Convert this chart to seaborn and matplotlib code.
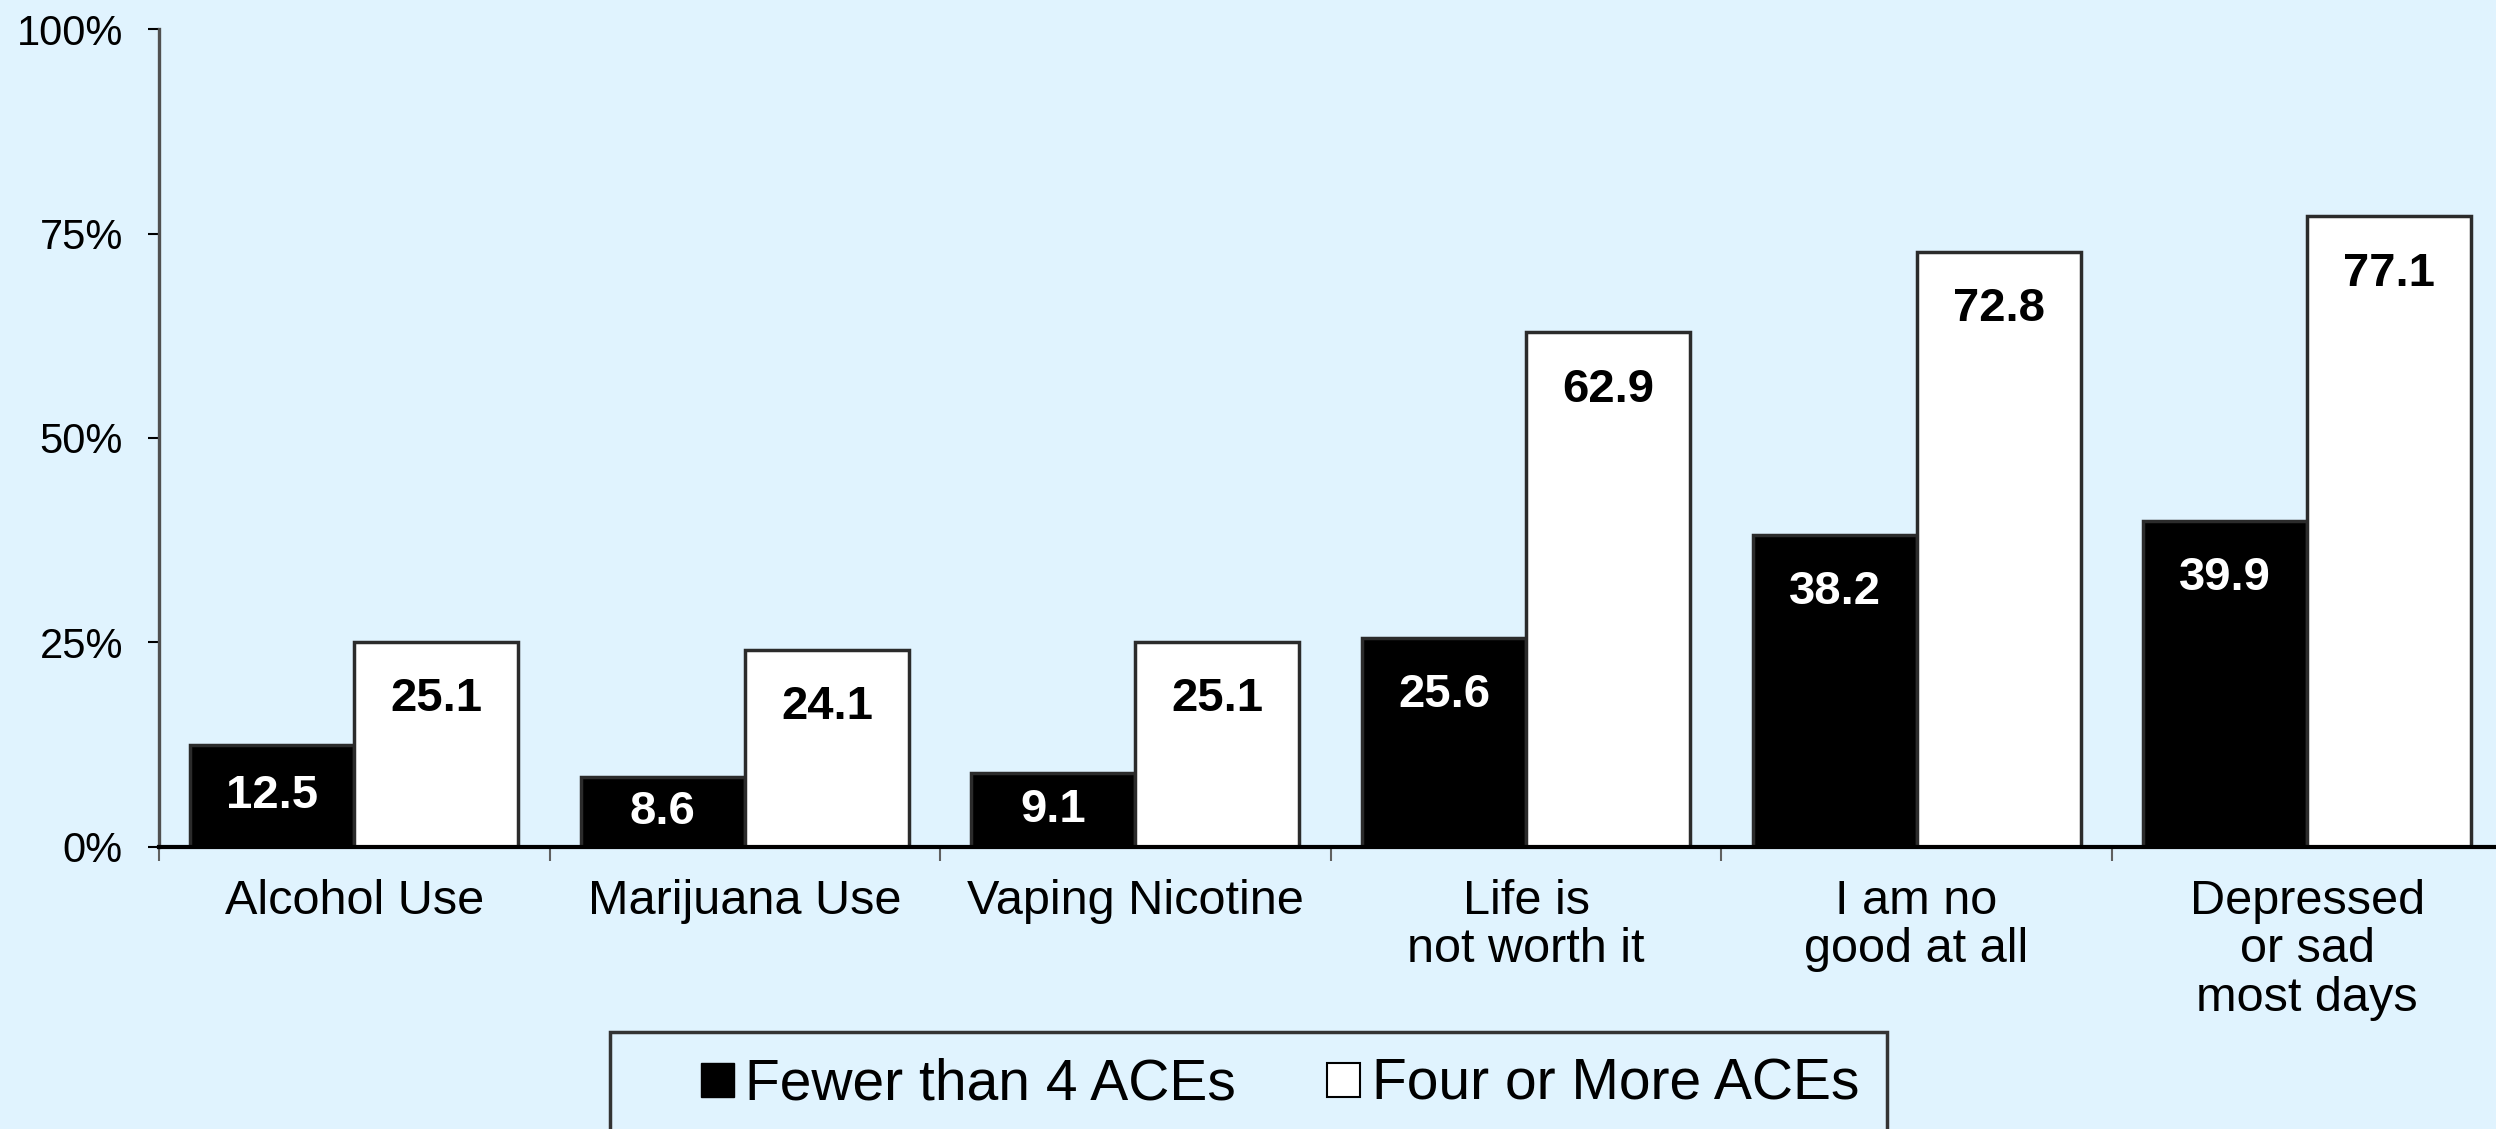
import matplotlib as mpl
import matplotlib.pyplot as plt
import matplotlib.patches as mpatches
import pandas as pd
import seaborn as sns

# Chart values.
categories = [
    "Alcohol Use",
    "Marijuana Use",
    "Vaping Nicotine",
    "Life is\nnot worth it",
    "I am no\ngood at all",
    "Depressed\nor sad\nmost days",
]
groups = ["Fewer than 4 ACEs", "Four or More ACEs"]
fewer_than_4 = [12.5, 8.6, 9.1, 25.6, 38.2, 39.9]
four_or_more = [25.1, 24.1, 25.1, 62.9, 72.8, 77.1]
y_ticks = [0, 25, 50, 75, 100]
y_tick_labels = ["0%", "25%", "50%", "75%", "100%"]

BG = "#E0F3FE"

sns.set_style("white")
plt.rcParams["font.family"] = ["Liberation Sans", "DejaVu Sans"]
plt.rcParams["text.color"] = "black"
plt.rcParams["xtick.color"] = "black"
plt.rcParams["ytick.color"] = "black"

# Long format so seaborn can dodge the two groups.
df = pd.DataFrame({
    "category": categories * 2,
    "group": [groups[0]] * len(categories) + [groups[1]] * len(categories),
    "value": fewer_than_4 + four_or_more,
})

fig = plt.figure(figsize=(24.96, 11.29), dpi=100, facecolor=BG)
ax = fig.add_axes([0.0637, 0.2498, 0.9389, 0.7245])
ax.set_facecolor(BG)

sns.barplot(
    ax=ax, data=df, x="category", y="value", hue="group",
    order=categories, hue_order=groups,
    palette={groups[0]: "black", groups[1]: "white"},
    width=0.84, gap=0, edgecolor="#2b2b2b", linewidth=2.5,
    saturation=1, legend=False,
)

# Value labels inside the bar tops (centred in the bar when it is short).
for container, vals, tcol in zip(ax.containers, [fewer_than_4, four_or_more], ["white", "black"]):
    for bar, v in zip(container, vals):
        ax.text(
            bar.get_x() + bar.get_width() / 2, max(v - 7.0, v / 2), f"{v:.1f}",
            ha="center", va="center", fontsize=34, fontweight="bold", color=tcol,
        )

ax.set_xlim(-0.5, 5.5)
ax.set_ylim(0, 100)
ax.set_yticks(y_ticks)
ax.set_yticklabels(y_tick_labels)
ax.set_xlabel("")
ax.set_ylabel("")

# Category labels at the centres, short tick marks at the group boundaries.
ax.set_xticks(range(len(categories)))
ax.set_xticklabels(categories, linespacing=1.1, va="top")
ax.set_xticks([i - 0.5 for i in range(len(categories) + 1)], minor=True)
ax.tick_params(axis="x", which="major", bottom=True, length=0, pad=23, labelsize=35)
ax.tick_params(axis="x", which="minor", bottom=True, length=10, width=1.5,
               color="#606060", direction="out")
ax.tick_params(axis="y", which="major", left=True, length=8, width=1.5, color="black",
               direction="out", pad=18, labelsize=30)

for side in ["top", "right"]:
    ax.spines[side].set_visible(False)
ax.spines["left"].set_color("#505050")
ax.spines["left"].set_linewidth(2.4)
ax.spines["bottom"].set_color("black")
ax.spines["bottom"].set_linewidth(3)
ax.spines["bottom"].set_zorder(5)

# Legend box running off the bottom edge.
box = mpatches.Rectangle(
    (610 / 2496, -0.01), (1887 - 610) / 2496, 0.01 + (1129 - 1032) / 1129,
    transform=fig.transFigure, facecolor=BG, edgecolor="#333333", linewidth=2.5,
)
fig.patches.append(box)
handles = [
    mpatches.Patch(facecolor="black", edgecolor="black", label=groups[0]),
    mpatches.Patch(facecolor="white", edgecolor="black", linewidth=1.5, label=groups[1]),
]
fig.legend(
    handles=handles, loc="center", bbox_to_anchor=(0.5128, 1 - 1085 / 1129),
    ncol=2, frameon=False, fontsize=41, handlelength=0.58, handleheight=0.56,
    handletextpad=0.2, columnspacing=1.6,
)

plt.savefig("out.png", dpi=100, facecolor=BG)
